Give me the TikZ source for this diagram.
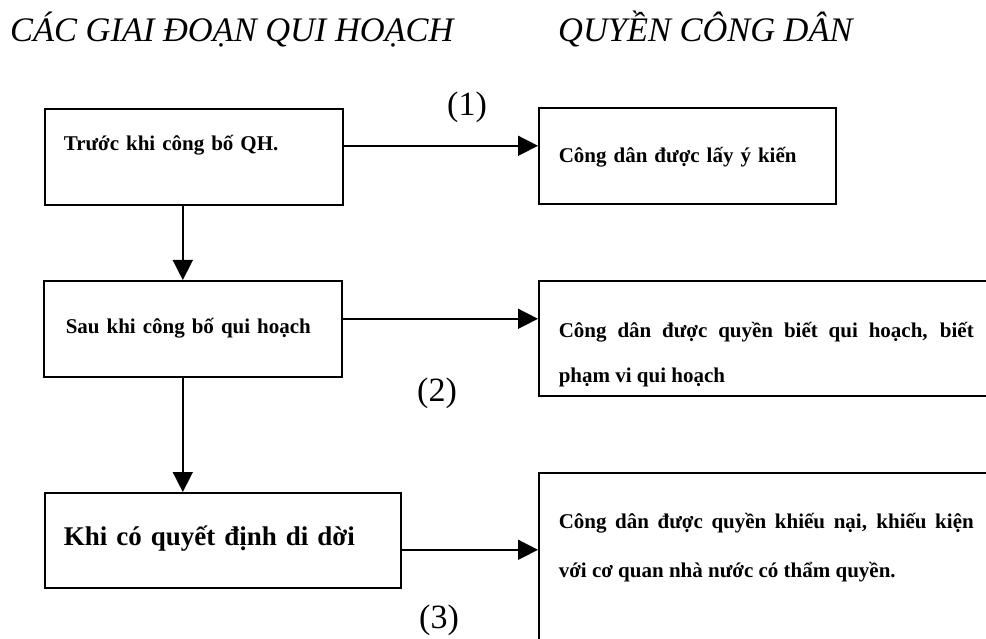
\documentclass[tikz,border=0pt]{standalone}
\usepackage{fontspec}
\setmainfont{Liberation Serif}
\usetikzlibrary{arrows.meta}

\begin{document}
\begin{tikzpicture}[x=1pt,y=-1pt,
  stagebox/.style={draw,line width=1.6pt,rectangle,inner sep=0pt,anchor=north west,
    font=\fontsize{21}{25}\selectfont\bfseries,align=left},
  rightbox/.style={stagebox,align=justify,minimum width=455pt,text width=415pt},
  link/.style={line width=1.6pt,-{Triangle[length=20pt,width=20pt]}},
  heading/.style={anchor=base west,inner sep=0pt,font=\fontsize{34.4}{40}\selectfont\itshape},
  numlabel/.style={inner sep=0pt,font=\fontsize{34}{40}\selectfont}]
\useasboundingbox (0,0) rectangle (986,639);
\node[heading] (hstage) at (10,42) {CÁC GIAI ĐOẠN QUI HOẠCH};
\node[heading] (hright) at (558,42) {QUYỀN CÔNG DÂN};

\node[stagebox,minimum width=298pt,minimum height=96pt,text width=260pt,
  text height=14pt,text depth=26pt] (pre) at (44,108) {Trước khi công bố QH.};
\node[stagebox,minimum width=298pt,minimum height=96pt,text width=254pt,
  text height=15pt,text depth=5pt] (post) at (43,280) {Sau khi công bố qui hoạch};
\node[stagebox,minimum width=356pt,minimum height=95pt,text width=318pt,
  text height=17pt,text depth=6pt,font=\fontsize{27}{32}\selectfont\bfseries] (move) at (44,492) {Khi có quyết định di dời};

\node[stagebox,minimum width=297pt,minimum height=96pt,text width=257pt,
  text height=16pt,text depth=2pt] (right1) at (538,107) {Công dân được lấy ý kiến};
\node[rightbox,minimum height=115pt,text height=14pt,text depth=16pt,
  font=\fontsize{21}{45}\selectfont\bfseries] (right2) at (538,280)
  {Công dân được quyền biết qui hoạch, biết\linebreak phạm vi qui hoạch};
\node[rightbox,minimum height=200pt,text height=14pt,text depth=102pt,
  font=\fontsize{21}{48.5}\selectfont\bfseries] (right3) at (538,472)
  {Công dân được quyền khiếu nại, khiếu kiện\linebreak với cơ quan nhà nước có thẩm quyền.};

\draw[link] ([xshift=-11pt]pre.south) -- ([xshift=-11pt]pre.south |- post.north);
\draw[link] ([xshift=-10pt]post.south) -- ([xshift=-10pt]post.south |- move.north);
\draw[link] ([yshift=11pt]pre.east) -- ([yshift=11pt]pre.east -| right1.west);
\draw[link] ([yshift=10pt]post.east) -- ([yshift=10pt]post.east -| right2.west);
\draw[link] ([yshift=-9.5pt]move.east) -- ([yshift=-9.5pt]move.east -| right3.west);

\node[numlabel] (n1) at (467,107) {(1)};
\node[numlabel] (n2) at (437,393) {(2)};
\node[numlabel] (n3) at (439,620) {(3)};
\end{tikzpicture}
\end{document}
